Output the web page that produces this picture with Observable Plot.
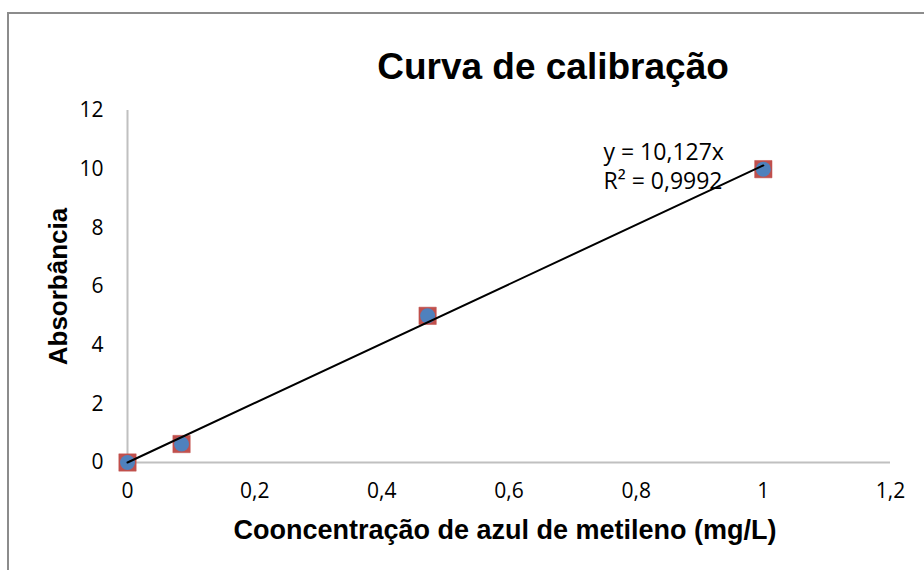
<!DOCTYPE html>
<html>
<head>
<meta charset="utf-8">
<script src="https://cdn.jsdelivr.net/npm/d3@7"></script>
<script src="https://cdn.jsdelivr.net/npm/@observablehq/plot@0.6"></script>
<style>
  html, body { margin: 0; padding: 0; background: #fff; overflow: hidden; }
  #wrap { position: relative; width: 924px; height: 570px; }
  #border { position: absolute; left: 7px; top: 12px; width: 2000px; height: 2000px;
            border: 2px solid #8c8c8c; pointer-events: none; box-sizing: border-box; }
  svg { display: block; }
</style>
</head>
<body>
<div id="wrap"><div id="border"></div></div>
<script>
// Data
const concentration = [0, 0.085, 0.472, 1.0];
const absorbance = [0, 0.63, 5.0, 10.0];
const slope = 10.127;
const equationLines = ["y = 10,127x", "R² = 0,9992"];
const xTicks = [0, 0.2, 0.4, 0.6, 0.8, 1, 1.2];
const yTicks = [0, 2, 4, 6, 8, 10, 12];
const title = "Curva de calibração";
const xTitle = "Cooncentração de azul de metileno (mg/L)";
const yTitle = "Absorbância";

const points = concentration.map((c, i) => ({x: c, y: absorbance[i]}));
const xExtent = d3.extent(concentration);
const trend = xExtent.map(x => ({x, y: slope * x}));
const fmt = d => String(d).replace(".", ",");

const tickFont = "'Open Sans', sans-serif";
const boldFont = "'Liberation Sans', Arial, sans-serif";

const chart = Plot.plot({
  width: 924,
  height: 570,
  marginLeft: 127,
  marginRight: 34,
  marginTop: 110,
  marginBottom: 108,
  style: {background: "transparent", fontFamily: tickFont, fontSize: "21px", color: "#000"},
  x: {domain: [0, 1.2]},
  y: {domain: [0, 12]},
  marks: [
    Plot.axisX({ticks: xTicks, tickFormat: fmt, tickSize: 0, tickPadding: 21, label: null,
                fontSize: 21, fill: "#000"}),
    Plot.axisY({ticks: yTicks, tickFormat: fmt, tickSize: 0, tickPadding: 24, label: null,
                fontSize: 21, fill: "#000"}),
    Plot.ruleY([0], {stroke: "#c0c0c0", strokeWidth: 2}),
    Plot.ruleX([0], {stroke: "#c0c0c0", strokeWidth: 2}),
    Plot.dot(points, {x: "x", y: "y", symbol: "square", r: 9.8, fill: "#c0504d", stroke: "#c0504d", strokeWidth: 0.5}),
    Plot.dot(points, {x: "x", y: "y", symbol: "circle", r: 7.5, fill: "#4f81bd"}),
    Plot.line(trend, {x: "x", y: "y", stroke: "#000", strokeWidth: 2}),
    Plot.text([equationLines.join("\n")], {frameAnchor: "top-left", textAnchor: "start", lineAnchor: "middle",
      dx: 476, dy: 55, fontSize: 23, lineHeight: 1.26, fill: "#000", fontFamily: tickFont}),
    Plot.text([title], {frameAnchor: "top", lineAnchor: "middle", dx: 44, dy: -43, fontSize: 37, fontWeight: "bold",
      fill: "#000", fontFamily: boldFont}),
    Plot.text([xTitle], {frameAnchor: "bottom", lineAnchor: "middle", dx: -4, dy: 68, fontSize: 27, fontWeight: "bold",
      fill: "#000", fontFamily: boldFont}),
    Plot.text([yTitle], {frameAnchor: "left", textAnchor: "middle", lineAnchor: "middle", dx: -69, dy: 0, rotate: -90,
      fontSize: 26, fontWeight: "bold", fill: "#000", fontFamily: boldFont})
  ]
});
document.getElementById("wrap").prepend(chart);
</script>
</body>
</html>
